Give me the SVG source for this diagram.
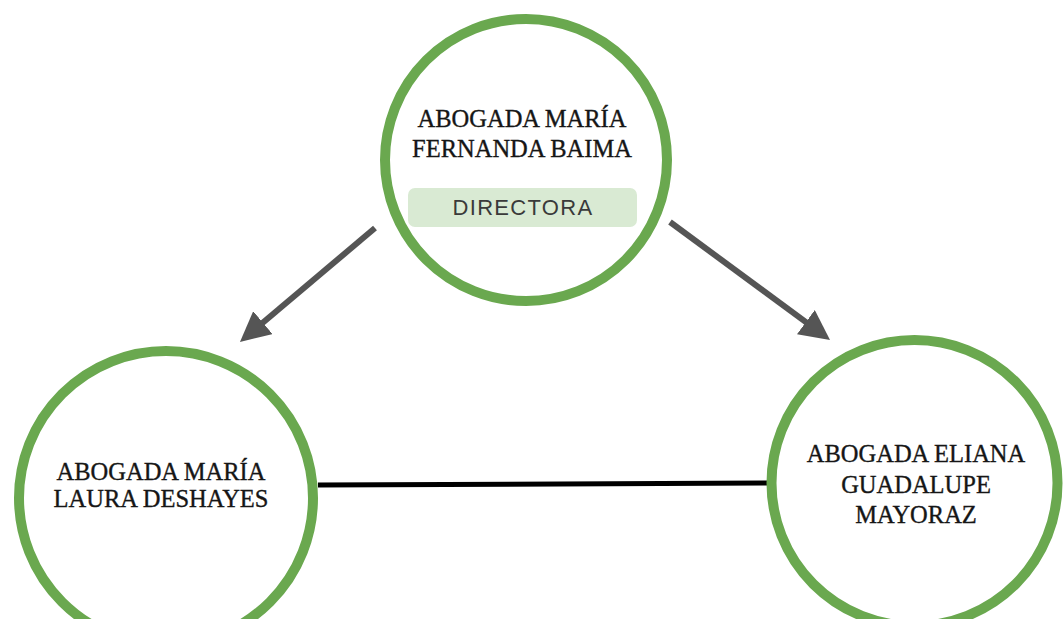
<svg xmlns="http://www.w3.org/2000/svg" width="1064" height="619" viewBox="0 0 1064 619">
<style>
.node{fill:#ffffff;stroke:#6aa84f;stroke-width:10}
.lbl{font-family:"Liberation Serif","Times New Roman",serif;font-size:24.5px;fill:#161616;stroke:#161616;stroke-width:0.35;text-anchor:middle}
.tag{font-family:"Liberation Sans",Arial,sans-serif;font-size:22px;fill:#3a3a3a;text-anchor:middle;letter-spacing:1.3px}
.arrow{stroke:#555555;stroke-width:6;fill:none}
.link{stroke:#000000;stroke-width:5;fill:none}
</style>
<defs>
<marker id="ah" viewBox="0 0 10 10" refX="2" refY="5" markerWidth="5" markerHeight="5" orient="auto" markerUnits="strokeWidth">
<path d="M0,0 L10,5 L0,10 Z" fill="#555555"/>
</marker>
</defs>
<rect width="1064" height="619" fill="#ffffff"/>
<g id="connectors">
<line class="link" x1="318" y1="485" x2="767" y2="483"/>
<line class="arrow" x1="375" y1="228" x2="258.3" y2="326.5" marker-end="url(#ah)"/>
<line class="arrow" x1="670" y1="222" x2="810.7" y2="325.7" marker-end="url(#ah)"/>
</g>
<g id="node-directora">
<circle class="node" cx="526" cy="160" r="141"/>
<text class="lbl" x="522" y="127">ABOGADA MARÍA</text>
<text class="lbl" x="522" y="157">FERNANDA BAIMA</text>
<rect x="408" y="188" width="229" height="39" rx="7" fill="#d9ead3"/>
<text class="tag" x="523" y="215">DIRECTORA</text>
</g>
<g id="node-deshayes">
<circle class="node" cx="166" cy="498" r="147"/>
<text class="lbl" x="161" y="480">ABOGADA MARÍA</text>
<text class="lbl" x="161" y="507">LAURA DESHAYES</text>
</g>
<g id="node-mayoraz">
<circle class="node" cx="914.5" cy="483" r="143"/>
<text class="lbl" x="916" y="462">ABOGADA ELIANA</text>
<text class="lbl" x="916" y="493">GUADALUPE</text>
<text class="lbl" x="916" y="523">MAYORAZ</text>
</g>
</svg>
